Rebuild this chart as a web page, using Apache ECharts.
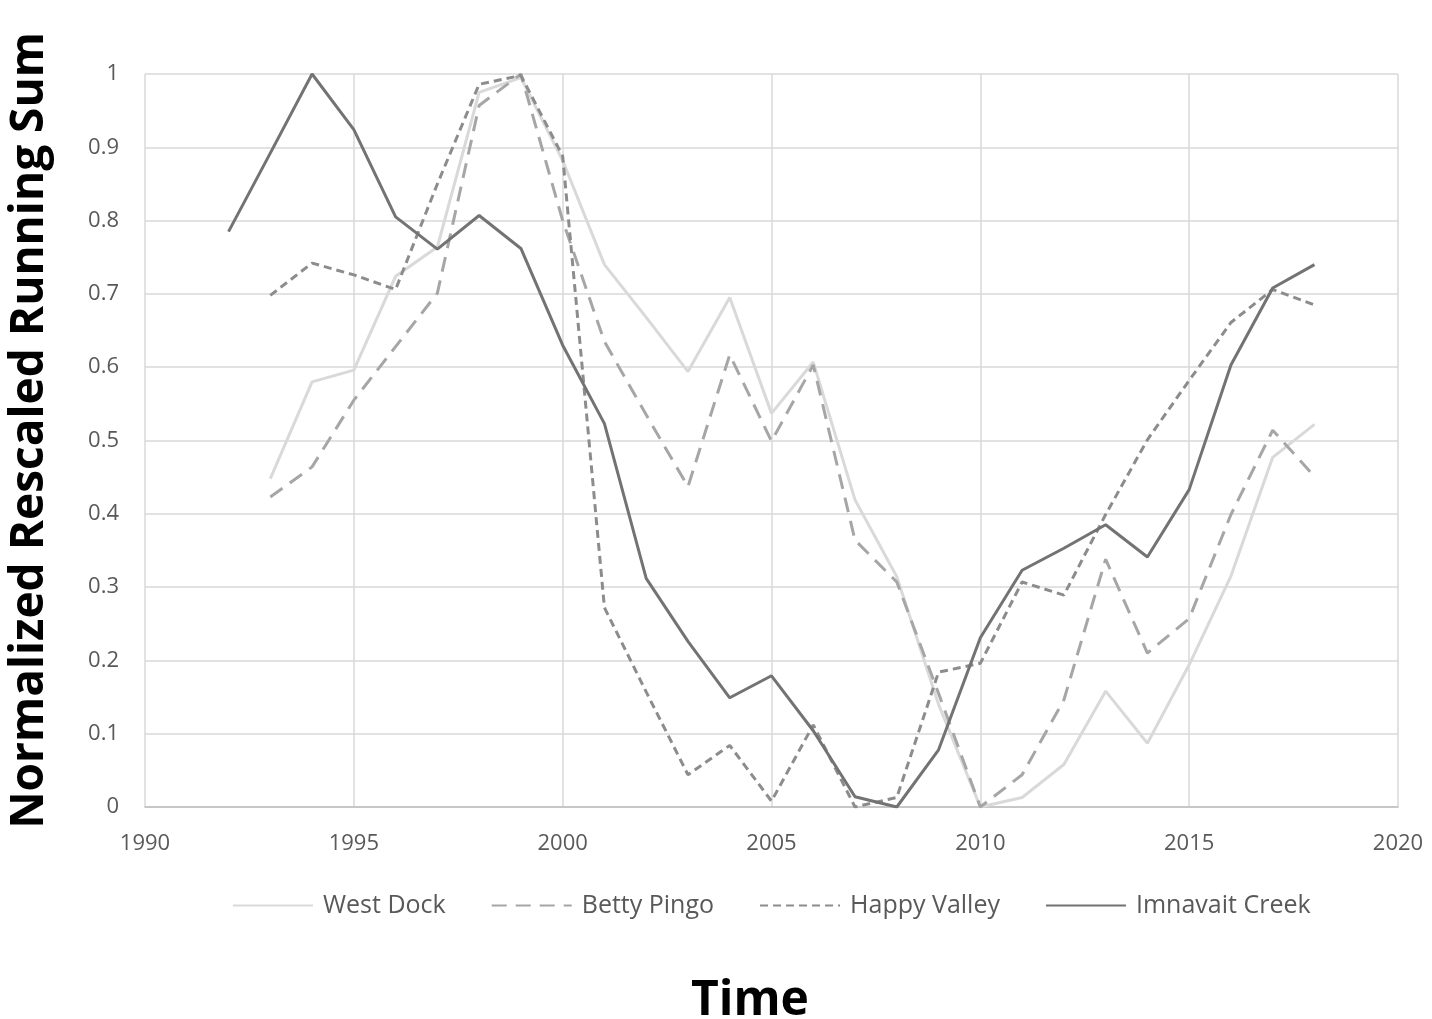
<!DOCTYPE html>
<html>
<head>
<meta charset="utf-8">
<title>Normalized Rescaled Running Sum</title>
<script src="https://cdn.jsdelivr.net/npm/echarts@6/dist/echarts.min.js"></script>
<style>
  html, body { margin: 0; padding: 0; background: #ffffff; }
  #chart { width: 1432px; height: 1019px; }
</style>
</head>
<body>
<div id="chart"></div>
<script>
// Years on the horizontal axis
const years = [1992, 1993, 1994, 1995, 1996, 1997, 1998, 1999, 2000, 2001, 2002, 2003, 2004, 2005,
               2006, 2007, 2008, 2009, 2010, 2011, 2012, 2013, 2014, 2015, 2016, 2017, 2018];

// Normalized rescaled running sum per site (null = no record that year)
const westDock = [null, 0.448, 0.580, 0.596, 0.724, 0.764, 0.975, 0.995, 0.882, 0.740, 0.668, 0.594, 0.695, 0.537,
                  0.607, 0.419, 0.314, 0.140, 0.000, 0.013, 0.058, 0.158, 0.087, 0.194, 0.315, 0.477, 0.522];
const bettyPingo = [null, 0.423, 0.464, 0.555, 0.628, 0.701, 0.957, 1.000, 0.800, 0.635, 0.535, 0.437, 0.617, 0.499,
                    0.603, 0.364, 0.307, 0.155, 0.000, 0.044, 0.146, 0.338, 0.210, 0.257, 0.399, 0.514, 0.451];
const happyValley = [null, 0.698, 0.742, 0.726, 0.706, 0.850, 0.986, 0.998, 0.888, 0.272, 0.157, 0.044, 0.084, 0.008,
                     0.112, 0.000, 0.013, 0.184, 0.196, 0.307, 0.289, 0.399, 0.501, 0.582, 0.661, 0.706, 0.685];
const imnavaitCreek = [0.785, 0.892, 1.000, 0.924, 0.805, 0.761, 0.807, 0.762, 0.630, 0.523, 0.312, 0.226, 0.149, 0.179,
                       0.104, 0.014, 0.000, 0.078, 0.231, 0.323, 0.353, 0.385, 0.341, 0.433, 0.603, 0.708, 0.740];

const seriesNames = ['West Dock', 'Betty Pingo', 'Happy Valley', 'Imnavait Creek'];

function pairs(values) {
  const out = [];
  years.forEach((y, i) => { if (values[i] !== null) out.push([y, values[i]]); });
  return out;
}

const labelColor = '#595959';
const gridColor = '#d9d9d9';

const chart = echarts.init(document.getElementById('chart'), null, { renderer: 'canvas' });

function lineSeries(name, values, color, width, dash) {
  return {
    name: name,
    type: 'line',
    data: pairs(values),
    symbol: 'none',
    showSymbol: false,
    smooth: false,
    connectNulls: false,
    lineStyle: { color: color, width: width, type: dash },
    itemStyle: { color: color },
    emphasis: { disabled: true },
    animation: false
  };
}

chart.setOption({
  backgroundColor: '#ffffff',
  animation: false,
  textStyle: { fontFamily: 'Open Sans' },
  grid: { left: 145, right: 34, top: 74, bottom: 212, containLabel: false, outerBoundsMode: 'none' },
  legend: {
    data: seriesNames,
    bottom: 96,
    left: 227,
    itemWidth: 80,
    itemHeight: 14,
    itemGap: 45,
    itemStyle: { opacity: 0 },
    textStyle: { color: labelColor, fontSize: 25, fontFamily: 'Open Sans', padding: [0, 0, 0, 5] }
  },
  xAxis: {
    type: 'value',
    min: 1990,
    max: 2020,
    interval: 5,
    name: 'Time',
    nameLocation: 'middle',
    nameGap: 170,
    nameTextStyle: { color: '#000000', fontSize: 48, fontWeight: 'bold', fontFamily: 'Open Sans', padding: [0, 43, 0, 0] },
    axisLine: { show: true, lineStyle: { color: '#bfbfbf', width: 1.5 } },
    axisTick: { show: false },
    axisLabel: { color: labelColor, fontSize: 22, margin: 26, formatter: v => String(v) },
    splitLine: { show: true, lineStyle: { color: gridColor, width: 1.5 } }
  },
  yAxis: {
    type: 'value',
    min: 0,
    max: 1,
    interval: 0.1,
    name: 'Normalized Rescaled Running Sum',
    nameLocation: 'middle',
    nameGap: 92,
    nameTextStyle: { color: '#000000', fontSize: 46, fontWeight: 'bold', fontFamily: 'Open Sans', padding: [0, 0, 0, 20] },
    axisLine: { show: false },
    axisTick: { show: false },
    axisLabel: { color: labelColor, fontSize: 22, margin: 26, formatter: v => String(parseFloat(v.toFixed(1))) },
    splitLine: { show: true, lineStyle: { color: gridColor, width: 1.5 } }
  },
  series: [
    lineSeries(seriesNames[0], westDock, '#d9d9d9', 3, 'solid'),
    lineSeries(seriesNames[1], bettyPingo, '#a6a6a6', 3, [15, 9]),
    lineSeries(seriesNames[2], happyValley, '#8c8c8c', 3, [8, 5]),
    lineSeries(seriesNames[3], imnavaitCreek, '#737373', 3, 'solid')
  ]
});
</script>
</body>
</html>
